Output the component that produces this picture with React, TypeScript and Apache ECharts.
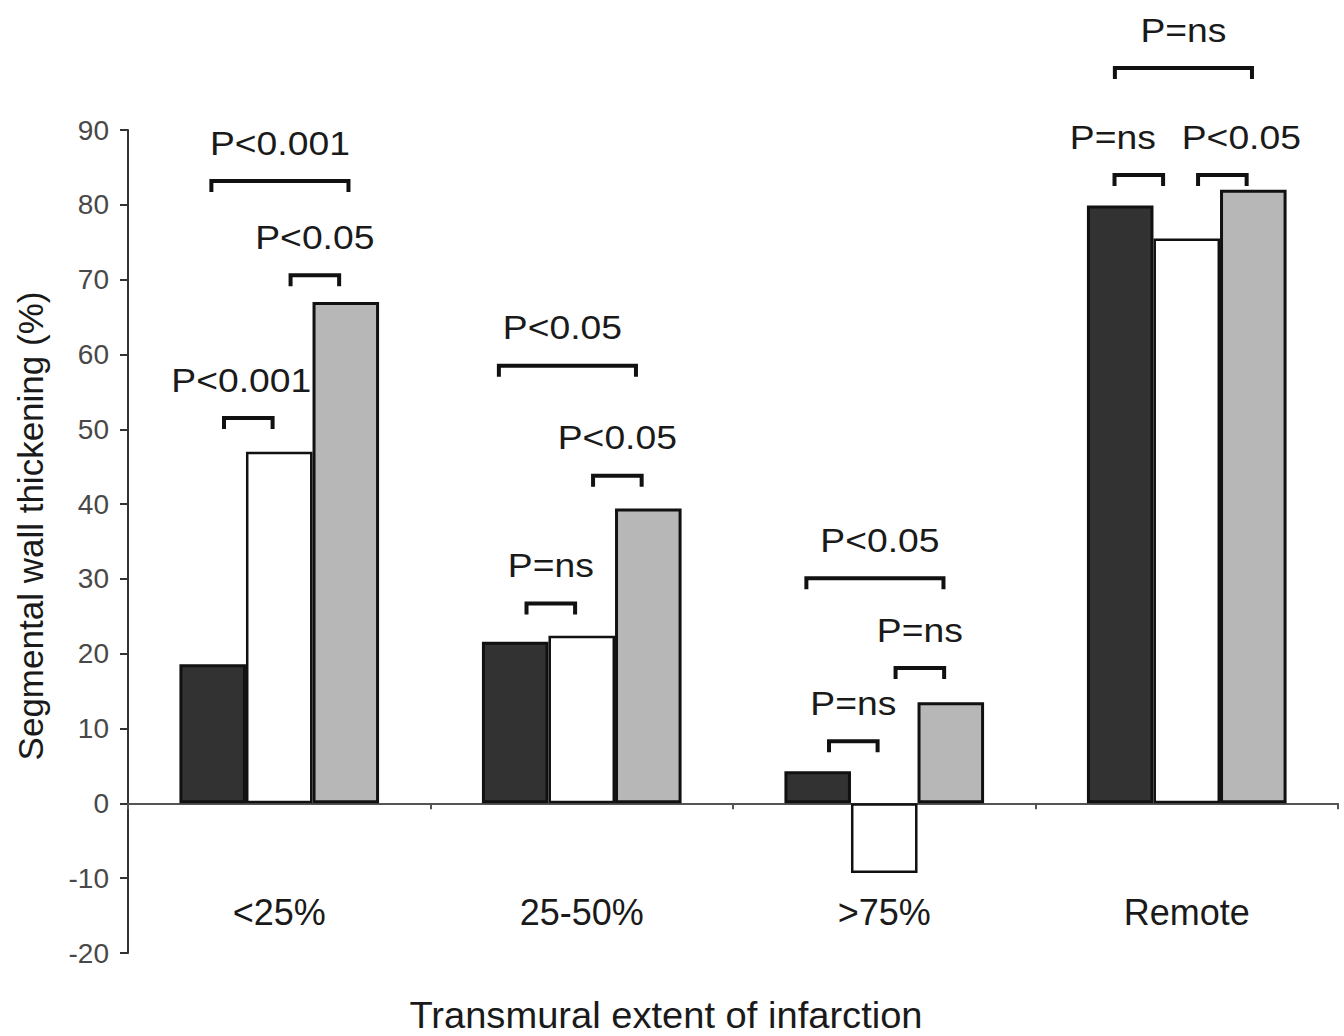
import React, { useEffect, useRef } from "react";
import * as echarts from "echarts";

const categories = ["<25%", "25-50%", ">75%", "Remote"];
const blackValues = [18.6, 21.6, 4.3, 79.9];
const whiteValues = [47.0, 22.4, -9.3, 75.5];
const grayValues = [67.0, 39.4, 13.5, 82.0];
const yTicks = { min: -20, max: 90, interval: 10 };

// significance brackets: category, level (y value), from bar, to bar, label
const bracketCategory = [0, 0, 0, 1, 1, 1, 2, 2, 2, 3, 3, 3];
const bracketLevel = [83.2, 70.6, 51.5, 58.5, 43.8, 26.7, 30.1, 18.1, 8.3, 98.3, 84.0, 84.0];
const bracketFrom = [0, 1, 0, 0, 1, 0, 0, 1, 0, 0, 0, 1];
const bracketTo = [2, 2, 1, 2, 2, 1, 2, 2, 1, 2, 1, 2];
const bracketLabels = [
  "P<0.001", "P<0.05", "P<0.001",
  "P<0.05", "P<0.05", "P=ns",
  "P<0.05", "P=ns", "P=ns",
  "P=ns", "P=ns", "P<0.05",
];

const FONT = "'Liberation Sans', Arial, Helvetica, sans-serif";
// layout nudges (pixels) for individual brackets / their labels
const BRACKET_NUDGE: Record<number, number> = { 0: 4, 3: -11, 6: -6, 10: -17 };
const LABEL_NUDGE: Record<number, number> = { 2: -7, 3: -5, 6: 5, 10: -26, 11: 19 };

export default function App() {
  const ref = useRef<HTMLDivElement>(null);
  useEffect(() => {
    if (!ref.current) return;
    const chart = echarts.init(ref.current, undefined, { renderer: "svg" });
    const barWidthRatio = 0.22;
    const option: any = {
      animation: false,
      backgroundColor: "#ffffff",
      grid: { left: 128, right: 6, top: 130, bottom: 83, containLabel: false, outerBoundsMode: "none" },
      xAxis: {
        type: "category",
        data: categories,
        axisLine: { onZero: true, lineStyle: { color: "#555", width: 2 } },
        axisTick: { show: true, alignWithLabel: false, length: 6, lineStyle: { color: "#555", width: 2 } },
        axisLabel: { margin: -59, fontSize: 36, color: "#1a1a1a", fontFamily: FONT },
        splitLine: { show: false },
      },
      yAxis: {
        type: "value",
        min: yTicks.min,
        max: yTicks.max,
        interval: yTicks.interval,
        axisLine: { show: true, lineStyle: { color: "#333", width: 2 } },
        axisTick: { show: true, inside: false, length: 8, lineStyle: { color: "#333", width: 2 } },
        axisLabel: { margin: 19, fontSize: 28, color: "#484848", fontFamily: FONT },
        splitLine: { show: false },
      },
      series: [
        {
          type: "bar",
          data: blackValues,
          barWidth: "22%",
          barGap: "0%",
          itemStyle: { color: "#323232", borderColor: "#111", borderWidth: 3 },
        },
        {
          type: "bar",
          data: whiteValues,
          barWidth: "22%",
          barGap: "0%",
          itemStyle: { color: "#ffffff", borderColor: "#111", borderWidth: 2.5 },
        },
        {
          type: "bar",
          data: grayValues,
          barWidth: "22%",
          barGap: "0%",
          itemStyle: { color: "#b7b7b7", borderColor: "#111", borderWidth: 3 },
        },
        {
          type: "custom",
          clip: false,
          z: 10,
          data: bracketCategory.map((c, i) => [c, bracketLevel[i]]),
          renderItem: (params: any, api: any) => {
            const i = params.dataIndex;
            const cat = api.value(0);
            const level = api.value(1);
            const pt = api.coord([cat, level]);
            const cx = pt[0];
            const py = pt[1];
            const catW = api.size([1, 0])[0];
            const bw = catW * barWidthRatio;
            const c = (k: number) => cx + (k - 1) * bw;
            const from = bracketFrom[i];
            const to = bracketTo[i];
            let x1: number, x2: number;
            if (to - from === 2) {
              x1 = c(from) - 0.08 * bw;
              x2 = c(to) - 0.02 * bw;
            } else {
              x1 = c(from) + 0.17 * bw;
              x2 = c(to) - 0.1 * bw;
            }
            const shift = BRACKET_NUDGE[i] || 0;
            x1 += shift;
            x2 += shift;
            const tx = (x1 + x2) / 2 + (LABEL_NUDGE[i] || 0);
            return {
              type: "group",
              children: [
                {
                  type: "polyline",
                  shape: { points: [[x1, py + 11], [x1, py], [x2, py], [x2, py + 11]] },
                  style: { stroke: "#111", lineWidth: 4, fill: "none", lineJoin: "miter" },
                },
                {
                  type: "text",
                  x: tx,
                  y: py - 38,
                  scaleX: 1.13,
                  style: {
                    text: bracketLabels[i],
                    fontSize: 33,
                    fontFamily: FONT,
                    fill: "#1a1a1a",
                    align: "center",
                    verticalAlign: "middle",
                  },
                },
              ],
            };
          },
        },
      ],
      graphic: [
        {
          type: "text",
          x: 30,
          y: 526,
          rotation: Math.PI / 2,
          style: {
            text: "Segmental wall thickening (%)",
            fontSize: 35,
            fontFamily: FONT,
            fill: "#1a1a1a",
            align: "center",
            verticalAlign: "middle",
          },
        },
        {
          type: "text",
          x: 666,
          y: 1015,
          scaleX: 1.03,
          style: {
            text: "Transmural extent of infarction",
            fontSize: 37,
            fontFamily: FONT,
            fill: "#1a1a1a",
            align: "center",
            verticalAlign: "middle",
          },
        },
      ],
    };
    chart.setOption(option);
    return () => chart.dispose();
  }, []);
  return (
    <div
      ref={ref}
      style={{ position: "fixed", left: 0, top: 0, width: 1344, height: 1036, background: "#fff" }}
    />
  );
}
